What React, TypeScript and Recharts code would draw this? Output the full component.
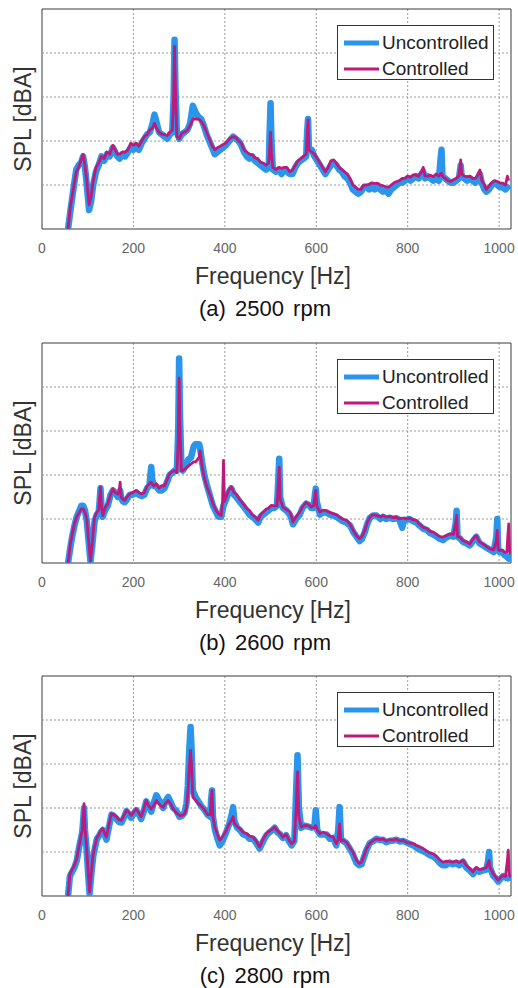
import React from 'react';
import { LineChart, Line, XAxis, YAxis, CartesianGrid, Legend, ReferenceArea, ReferenceLine } from 'recharts';

// ---------- data (SPL in relative units, 10 per grid step) ----------
const freqA = [57,62,66,70,75,80,85,90,94,98,103,107,112,118,124,130,136,142,148,155,160,165,170,176,182,188,194,200,206,212,218,224,230,236,242,246,250,256,262,268,274,280,285,288,290,292,295,300,306,312,318,324,330,336,342,348,354,360,366,372,378,384,390,396,402,410,418,424,430,436,442,448,454,460,466,472,478,484,490,496,498,500,502,505,512,518,524,530,536,542,548,554,560,566,572,578,580,582,584,590,596,602,608,614,620,626,632,638,644,650,656,662,668,674,680,686,692,698,704,710,716,722,728,734,740,746,752,758,764,770,776,782,788,794,800,806,812,818,824,830,834,838,844,850,856,862,868,872,874,876,882,888,894,900,906,912,916,918,924,930,936,942,948,954,958,962,968,972,978,984,990,996,1002,1008,1014,1018,1021];
const uncA = [0,4,7,10,13.5,14.5,15,16.5,14,10,4.3,6,10,13,14.5,16.5,15.5,17,16.5,18.5,17.5,16.5,16,17,16.5,17.5,18.5,18,19,18,19.5,20.5,21.5,22,24,26,24.5,22,21.5,21,20.5,21.5,22,30,43,32,22,20.5,21.5,22,22.5,24,28,26.5,25.5,25,23.5,21.5,20,18.5,17,17.5,18,18.5,19,20,21,20.5,20,19,17.5,16.5,16,16.5,15.5,15,14.5,14,13.5,14,22,28.6,20,13.5,13,13.5,12.5,13.5,13,12.5,12.5,14,15,15.5,16,16.5,22,25,18,18,16.5,15.5,14.5,13.5,12.5,13.5,14.5,15,14.5,13.5,13,12,11.5,10.5,9,8.5,8,8.5,9.5,9.5,9,9.5,9,9.5,9,8.5,8.8,8,9,9.5,10,10.5,10.5,11,11.5,11,11.5,12,11.5,12.5,13,11.5,12,11.5,11,11.5,11,16,18,12,11.5,11,10.5,10.5,11,11.5,14.5,12,11.5,11,11.5,11,10.5,11.5,12.5,10.5,9,8.5,9,10,10.5,10,9.5,9.5,9,9.5,8.9];
const ctrlA = [0,5,7.5,10,13,14,15.5,17,14.5,11,5.5,7,11,14,15,16.5,16,17.5,17,19,18,17,17,17.5,17.5,18,19.5,19,19.5,18.8,20,21,21.5,22.5,23,24,23,22,21.5,21.5,21.2,22,22.5,30,41.5,32,21,20.5,21.8,22,22.5,23.5,25,25,25,24.5,23.5,22,20.5,19,18,18.5,18.8,19.2,19.5,20.5,21,20.8,20,19.5,18,17.5,17,16.8,16.2,16,15.2,15,14.5,15,18,22,17,14,13.5,14,13.8,14,14,13,13.4,14.5,15.5,16,16.5,17,21,24.8,18,17.5,17,16,15,14,13,14,15.5,15.7,15,14,13.5,13,12.5,11.5,10,9.5,9,9,10,10,10.2,10.5,10.3,10.4,10,9.8,9.6,9.5,10,10.5,10.8,11,11.5,11.5,12,11.8,12.3,12.3,12,13,14,12,12,12.2,11.9,12.5,12,12.5,12.7,12,11.5,11,10.8,11.2,11.5,12,15.7,12.5,12,11.9,12,11.5,11.5,12.5,13.4,11,10,9,9.8,10.5,11,10.8,10.5,10.4,10,12,11];

const freqB = [57,62,66,71,76,82,86,90,94,98,102,106,110,115,120,124,126,128,130,133,138,144,150,155,160,166,169,171,173,177,181,186,192,198,206,212,218,224,230,235,237,239,241,245,250,256,262,268,274,279,285,290,295,298,300,302,305,308,314,320,326,332,336,340,344,346,350,355,360,367,374,381,386,392,395,397,399,403,408,414,420,425,432,440,447,454,460,466,473,478,484,490,496,502,508,514,517,519,521,527,534,542,546,549,556,564,570,578,584,589,594,597,599,601,608,615,622,630,637,644,651,658,666,674,681,688,695,700,706,712,717,724,732,740,746,753,760,768,775,782,788,792,797,804,812,819,826,834,842,849,856,863,870,877,884,892,900,905,907,909,915,921,928,936,943,950,957,965,972,980,988,994,996,998,1001,1006,1012,1017,1019,1021,1023,1025];
const uncB = [0,3.5,6,8.5,10.5,12,13,13,12,9.5,5,0.3,4,9.5,11,11.5,14,17,13,10.5,12,13,15.5,16.5,16,15,16,16.5,15,14,13.8,14.5,15.5,15.5,16,15.5,15.2,15.5,17,17.5,20,21.8,19,17.5,17.5,16.5,16.5,17,18.5,20,20.5,21,21,30,46.5,33,22,21,22,23.5,24,26.5,27,27,27,26,23,20,18,15.5,13,11.5,10.5,10.5,12,13,13.5,14.5,16,17,15.5,15,14,13,12,11,10.5,10,9.2,10.5,11,11.5,12,12.5,12.5,13,19,23.7,15,12.5,12,11,10,8.8,10,11,12.5,13.5,13.2,12.5,12.5,15.5,16.9,14,11,11.5,11.5,11,10.8,10.5,10,9.5,9.2,8.5,7,6,5,5.5,7,9,10.2,10.8,10.8,10,10.5,10,10.3,10,10.2,9.8,8,9.8,9.8,10,9.5,9.2,8.5,7.8,7.5,6.8,6.5,6,5.5,5.2,5.8,6.2,6,9,11.9,6,5.5,4.8,4.5,4,5,6,4.5,4,3.5,3,2.5,6,10,3,2.5,2.5,1.8,1.5,1.2,1,1.2,2];
const ctrlB = [0,4.3,6.5,8.9,10.5,11.6,12.3,12.3,11.5,10,5,0.5,4.5,10.4,11.6,12,15,17.3,13,10.8,12.5,13.5,15.5,16.9,16,15.7,16.5,18.4,15,14.5,14.2,15,15.7,16,16.5,16,15.7,16,17.5,18,18.4,18.4,18,17.5,18,17,17.6,17.5,19,20.3,20.8,21,20.5,28,42,30,21,21,21.5,22,22.5,23,23,23.5,24.1,25.5,22,19.5,17.5,15.7,13.5,11.9,11.2,10.8,14,23.3,14,15,16.5,17.3,16,15.7,14.5,13.5,12.5,11.9,11,10.5,9.7,11,11.6,12.2,12.5,13.1,13,13,18,21.8,14.5,12.7,12.2,11.6,10.5,9.3,10.5,11.6,12.8,13.8,13.3,12.7,13,15,16.5,13,11.6,12,11.9,11.5,11.2,11,10.4,10,9.7,8.8,7.4,6.2,5.5,6,7.4,9.3,10.4,11,10.8,10.5,10.8,10.4,10.6,10.3,10.4,10,10.2,10.2,10,10.2,9.8,9.7,8.8,8.1,7.8,7.2,7,6.5,6,5.9,6.2,6.6,6.5,9,10.8,6,5.8,5.1,4.8,4.3,5.5,6.2,4.8,4.3,3.8,3.2,3,5,7.4,3,2.8,3,2.4,2.5,6,8.9,2.5,2];

const freqC = [57,61,66,71,76,82,86,88,90,92,94,97,101,104,108,112,115,120,124,129,133,137,141,146,152,157,163,169,174,180,185,190,195,200,206,211,217,222,228,233,239,244,250,255,260,265,270,276,281,287,293,301,306,312,316,319,322,325,327,330,336,342,348,356,362,368,370,372,374,378,384,389,395,403,410,416,418,421,427,433,440,447,454,462,469,476,484,491,498,504,509,515,521,527,534,540,546,552,556,559,562,567,574,582,590,596,599,602,608,615,622,630,637,644,648,651,654,659,666,673,680,688,694,699,705,710,717,725,732,739,746,753,760,768,775,782,790,797,805,812,819,826,834,841,848,856,863,870,877,884,892,899,906,913,921,928,936,943,950,957,965,972,976,978,980,987,993,998,1004,1009,1014,1018,1020,1022,1025];
const uncC = [0,4.5,5.5,6.5,8,11.5,13.5,14.5,17,20,15,11.5,5,0.5,5,9,10.5,13,13.5,14.5,15,14,12.8,15.5,18.5,18.2,17.5,16.8,16.7,18,19.3,18.6,17.8,18.6,19.5,18.8,17.5,19,21.5,20.5,19.2,21,22.9,22,21.2,20,21.5,22.5,21.5,20,19.5,18,18.2,19,21,25,33,38.4,34,24,22.5,21.5,20.5,19.5,18.5,18,22,24,18,15.2,13,11.5,12.5,14.5,16.5,19,20.2,17,15.5,15,14,13.8,13,13,12,10.8,12.5,13.8,14.5,15,15.5,14.5,14,13.2,13.8,12.5,11.5,12.5,24,32,20,15.5,16,15.8,15.5,16,19.5,15,14,14,14,13,13.2,11.5,15,20.2,13,12.5,12,10.8,9.5,7.5,7,7.2,9,10.5,12,12.5,13,12.7,12.8,12.2,12.5,12.6,12.8,12.4,12.5,12.2,11.8,11.5,11,10.5,10.2,9.8,9.3,9,8.4,7.5,7,7,7.6,7.2,7.5,7,7.8,6.5,5.8,5,6,5.5,5.8,6,8,10,6.5,4.6,4,3.3,4,4.5,4.2,4,4.2,4.3,3.5];
const ctrlC = [0,5,6,7,8.5,11.9,14,14.9,18,21,15.5,11.9,5.5,0.9,5.5,9.5,11.1,13.3,13.8,15,15.3,14.2,13.4,16,18.7,18.5,18,17.3,17.2,18.5,19.5,19,18.3,19,19.8,19,18,19.5,21.7,20.5,19.8,20.5,21.7,21,20.5,20.2,21,21.7,21,19.8,19,18.3,18.3,18.7,20,23.3,29,33.1,30,22.5,21.8,21,20.5,19.5,18.5,18.5,22,24,18,15.7,14,12.7,13.5,14.9,16.5,17.5,18,16.5,15.8,15.3,14.5,14.2,13.6,13.4,12.5,11.1,13,14.2,14.8,15.2,15.7,14.8,14.2,13.4,14,12.8,11.9,12.5,20,28.2,18,15.7,16,16,15.5,15.5,16,15,14.2,14.5,14.2,13.6,13.4,11.9,13,16.4,12.5,12.7,12.2,11.1,10,8.1,7.4,7.7,9.3,10.8,12,12.7,13,12.8,13,12.5,12.8,12.7,12.9,12.5,12.7,12.2,12,11.9,11.5,11.2,10.8,10.2,9.8,9.6,9,8.2,7.7,7.9,7.8,7.7,8,7.6,8.1,7,6.2,5.5,6.5,6,6.2,6.5,7.5,8.1,6.5,5.1,4.2,3.6,4.3,4.7,4.5,8,10.4,5,4.3];

const xTicks = [0, 200, 400, 600, 800, 1000];
const yTicks = [0, 10, 20, 30, 40, 50];
const gridX = [200, 400, 600, 800, 1000];
const gridY = [10, 20, 30, 40];
const seriesNames = ['Uncontrolled', 'Controlled'];
const captions = ['(a)  2500  rpm', '(b)  2600  rpm', '(c)  2800  rpm'];

// ---------- styles ----------
const FONT = "'Liberation Sans', Arial, Helvetica, sans-serif";
const BLUE = '#2B95EC';
const MAG = '#BE1A7B';
const GRID = '#999999';

const build = (f: number[], u: number[], c: number[]) => f.map((fv, i) => ({ f: fv, u: u[i], c: c[i] }));

const LegendBox = (props: any) => {
  const payload = [...(props.payload || [])].sort(
    (a: any, b: any) => seriesNames.indexOf(a.value) - seriesNames.indexOf(b.value)
  );
  return (
    <div style={{ width: 157, height: 55, border: '1px solid #333', background: '#fff', boxSizing: 'border-box', position: 'relative', fontFamily: FONT }}>
      {payload.map((p: any, i: number) => (
        <div key={i} style={{ position: 'absolute', left: 0, top: i === 0 ? 5 : 31, height: 24, width: 157 }}>
          <svg width={45} height={24} style={{ position: 'absolute', left: 0, top: 0 }}>
            <line x1={6} x2={41} y1={12} y2={12} stroke={p.color} strokeWidth={i === 0 ? 5 : 3} />
          </svg>
          <span style={{ position: 'absolute', left: 44, top: 0, lineHeight: '24px', fontSize: 19, color: '#222', whiteSpace: 'nowrap' }}>{p.value}</span>
        </div>
      ))}
    </div>
  );
};

const Panel = ({ data, top, caption }: { data: any[]; top: number; caption: string }) => (
  <div style={{ position: 'absolute', left: 0, top, width: 518, height: 334 }}>
    <LineChart width={518} height={260} data={data} margin={{ top: 9, right: 7, bottom: 1, left: 42 }}>
      <CartesianGrid stroke={GRID} strokeDasharray="2 2" horizontal={false} verticalValues={gridX} />
      <XAxis type="number" dataKey="f" domain={[0, 1026]} ticks={xTicks} allowDataOverflow
        tickLine={false} tickSize={0} tickMargin={14} axisLine={false} height={30}
        tick={{ fill: '#666', fontSize: 14, fontFamily: FONT }} />
      <YAxis type="number" domain={[0, 50]} ticks={yTicks} allowDataOverflow width={0}
        tick={false} axisLine={false} tickLine={false} />
      {gridY.map((v) => (
        <ReferenceLine key={v} y={v} stroke={GRID} strokeDasharray="2 2" strokeWidth={1} />
      ))}
      <Line type="linear" dataKey="u" name={seriesNames[0]} stroke={BLUE} strokeWidth={6.5} strokeLinejoin="round" dot={false} isAnimationActive={false} />
      <Line type="linear" dataKey="c" name={seriesNames[1]} stroke={MAG} strokeWidth={2.8} strokeLinejoin="round" dot={false} isAnimationActive={false} />
      <ReferenceArea x1={0} x2={1026} y1={0} y2={50} fill="none" stroke="#3a3a3a" strokeWidth={1} />
      <Legend layout="vertical" align="center" verticalAlign="middle" content={<LegendBox />}
        wrapperStyle={{ left: 337, top: 25, width: 157, height: 55 }} />
    </LineChart>
    <div style={{ position: 'absolute', left: 23, top: 119, transform: 'translate(-50%, -50%) rotate(-90deg)', fontFamily: FONT, fontSize: 23, color: '#333', whiteSpace: 'nowrap', lineHeight: 1 }}>SPL [dBA]</div>
    <div style={{ position: 'absolute', left: 273, top: 276, transform: 'translate(-50%, -50%)', fontFamily: FONT, fontSize: 23, color: '#333', whiteSpace: 'nowrap', lineHeight: 1 }}>Frequency [Hz]</div>
    <div style={{ position: 'absolute', left: 265, top: 309, transform: 'translate(-50%, -50%)', fontFamily: FONT, fontSize: 22, color: '#111', whiteSpace: 'nowrap', wordSpacing: 3, lineHeight: 1 }}>{caption}</div>
  </div>
);

export default function App() {
  return (
    <div style={{ position: 'absolute', left: 0, top: 0, width: 518, height: 988, background: '#fff' }}>
      <Panel data={build(freqA, uncA, ctrlA)} top={0} caption={captions[0]} />
      <Panel data={build(freqB, uncB, ctrlB)} top={334} caption={captions[1]} />
      <Panel data={build(freqC, uncC, ctrlC)} top={667} caption={captions[2]} />
    </div>
  );
}
